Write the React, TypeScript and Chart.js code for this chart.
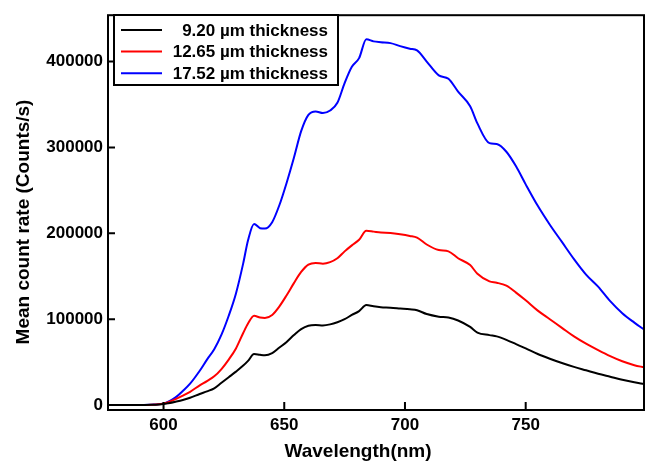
import React, { useEffect, useRef } from "react";
import { Chart, registerables } from "chart.js";

Chart.register(...registerables);

const WAVELENGTHS = [
  577, 585, 590, 595, 598, 600, 602, 605, 608, 611, 615, 618, 621, 624, 627, 630, 633, 635, 637.5, 640,
  642, 645, 648, 651, 654, 657, 660, 663, 666, 669, 672, 675, 678, 681, 684, 687, 690, 694, 698, 702,
  705, 709, 714, 718, 722, 727, 730, 735, 738, 742, 746, 750, 755, 760, 765, 770, 775, 780, 785, 790,
  795, 799,
];

const THICK_920 = [
  0, 0, 0, 300, 700, 1200, 2200, 4000, 6000, 8500, 13000, 16000, 19500, 26000, 32500, 39000, 46000, 51500, 59500, 58500,
  58000, 60500, 67000, 73500, 81500, 88500, 92500, 93300, 92800, 94000, 96500, 100000, 105000, 109500, 116500, 115000, 114000, 113500, 112500, 111500,
  110500, 106000, 103000, 102000, 98500, 91000, 84500, 81500, 80000, 76000, 71000, 66000, 59500, 54000, 49000, 44500, 40500, 36500, 33000, 29500,
  26500, 24500,
];

const THICK_1265 = [
  0, 0, 0, 400, 900, 1800, 3500, 7000, 11000, 15500, 23000, 28000, 33500, 42000, 53000, 66000, 84000, 95000, 104000, 102000,
  101500, 105000, 115000, 128000, 142000, 155000, 163500, 165500, 164700, 166500, 171000, 179000, 186000, 192500, 203000, 202000, 201000, 200500, 199000, 197000,
  195000, 187000, 180500, 179000, 171000, 163000, 153000, 144000, 142500, 139000, 131000, 122000, 110000, 100000, 90000, 80000, 71500, 64000, 57000, 51000,
  46500, 44000,
];

const THICK_1752 = [
  0, 0, 0, 500, 1000, 2000, 4000, 9000, 16500, 25000, 40000, 53000, 65000, 82000, 104000, 130000, 165000, 192000, 211000, 206000,
  205500, 213000, 233000, 259000, 288000, 319000, 338000, 342000, 340000, 343000, 352000, 375000, 394000, 404000, 426000, 423500, 422500, 421500, 418000, 415000,
  413000, 400000, 384000, 380000, 365000, 348000, 328000, 305000, 304000, 295000, 278000, 257000, 232000, 210000, 190000, 170000, 152000, 138000, 121000, 107000,
  96000, 88000,
];

const SERIES_LABELS = ["9.20 µm thickness", "12.65 µm thickness", "17.52 µm thickness"];
const SERIES_COLORS = ["#000000", "#ff0000", "#0000ff"];
const X_TICKS = [600, 650, 700, 750];
const Y_TICKS = [0, 100000, 200000, 300000, 400000];
const X_TITLE = "Wavelength(nm)";
const Y_TITLE = "Mean count rate (Counts/s)";
const FONT = "'Liberation Sans', Arial, Helvetica, sans-serif";

const toPoints = (vals: number[]) => WAVELENGTHS.map((w, i) => ({ x: w, y: vals[i] }));

const decorPlugin = {
  id: "decor",
  afterDatasetsDraw(chart: any) {
    const { ctx, chartArea: a, scales } = chart;
    ctx.save();
    ctx.strokeStyle = "#000";
    ctx.lineWidth = 2;
    ctx.strokeRect(a.left, a.top, a.right - a.left, a.bottom - a.top);
    ctx.beginPath();
    for (const t of scales.x.ticks) {
      const px = scales.x.getPixelForValue(t.value);
      ctx.moveTo(px, a.bottom);
      ctx.lineTo(px, a.bottom - 8);
    }
    for (const t of scales.y.ticks) {
      const py = scales.y.getPixelForValue(t.value);
      ctx.moveTo(a.left, py);
      ctx.lineTo(a.left + 7, py);
    }
    ctx.stroke();

    ctx.fillStyle = "#000";
    ctx.font = `bold 19px ${FONT}`;
    ctx.textAlign = "center";
    ctx.textBaseline = "middle";
    ctx.fillText(X_TITLE, 358, 452);
    ctx.save();
    ctx.translate(24, 222);
    ctx.rotate(-Math.PI / 2);
    ctx.fillText(Y_TITLE, 0, 0);
    ctx.restore();

    // legend box
    const lx = 114, ly = 15, lw = 224, lh = 70;
    ctx.fillStyle = "#fff";
    ctx.fillRect(lx, ly, lw, lh);
    ctx.strokeRect(lx, ly, lw, lh);
    ctx.font = `bold 17px ${FONT}`;
    ctx.textAlign = "right";
    chart.data.datasets.forEach((ds: any, i: number) => {
      const y = 30 + i * 21.6;
      ctx.strokeStyle = ds.borderColor;
      ctx.lineWidth = 2;
      ctx.beginPath();
      ctx.moveTo(121, y);
      ctx.lineTo(162, y);
      ctx.stroke();
      ctx.fillStyle = "#000";
      ctx.fillText(ds.label, 328, y + 1);
    });
    ctx.restore();
  },
};

export default function App() {
  const ref = useRef<HTMLCanvasElement | null>(null);
  useEffect(() => {
    document.body.style.margin = "0";
    const canvas = ref.current!;
    const chart = new Chart(canvas, {
      type: "line",
      data: {
        datasets: [THICK_920, THICK_1265, THICK_1752].map((vals, i) => ({
          label: SERIES_LABELS[i],
          data: toPoints(vals),
          borderColor: SERIES_COLORS[i],
          backgroundColor: SERIES_COLORS[i],
          borderWidth: 2,
          pointRadius: 0,
          cubicInterpolationMode: "monotone" as const,
          fill: false,
        })),
      },
      options: {
        animation: false,
        responsive: false,
        layout: { padding: { top: 10, right: 1, left: 0, bottom: 0 } },
        plugins: { legend: { display: false }, tooltip: { enabled: false } },
        scales: {
          x: {
            type: "linear",
            min: 577,
            max: 799,
            grid: { display: false, drawTicks: false },
            border: { display: false },
            afterBuildTicks: (s: any) => {
              s.ticks = X_TICKS.map((v) => ({ value: v }));
            },
            afterFit: (s: any) => {
              s.height = 53;
            },
            ticks: {
              padding: 5,
              color: "#000",
              font: { family: FONT, size: 17, weight: "bold" },
              callback: (v: any) => String(v),
            },
          },
          y: {
            type: "linear",
            min: -5700,
            max: 454000,
            grid: { display: false, drawTicks: false },
            border: { display: false },
            afterBuildTicks: (s: any) => {
              s.ticks = Y_TICKS.map((v) => ({ value: v }));
            },
            afterFit: (s: any) => {
              s.width = 108;
            },
            ticks: {
              padding: 5,
              color: "#000",
              font: { family: FONT, size: 17, weight: "bold" },
              callback: (v: any) => String(v),
            },
          },
        },
      },
      plugins: [decorPlugin],
    });
    return () => chart.destroy();
  }, []);
  return (
    <div style={{ width: 645, height: 463, background: "#fff" }}>
      <canvas ref={ref} width={645} height={463} />
    </div>
  );
}
